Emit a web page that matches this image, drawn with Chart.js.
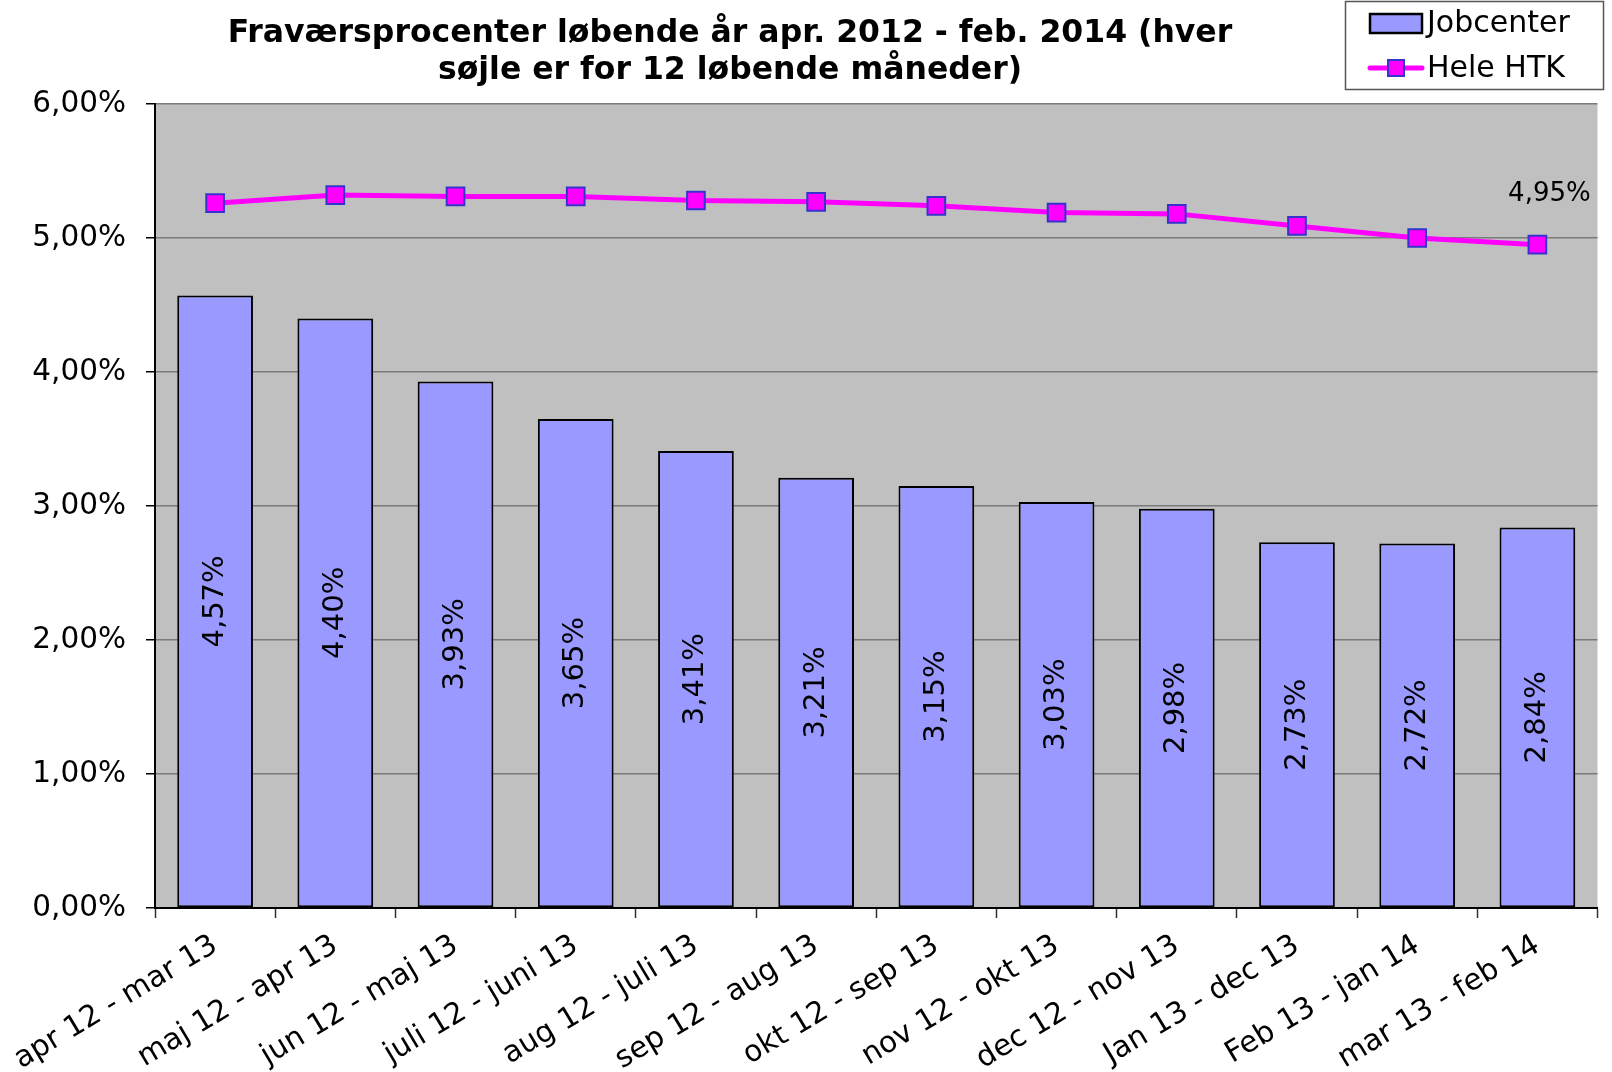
<!DOCTYPE html>
<html>
<head>
<meta charset="utf-8">
<script src="https://cdn.jsdelivr.net/npm/chart.js@4.4.0/dist/chart.umd.min.js"></script>
<style>
    html, body { margin: 0; padding: 0; background: #fff; }
    canvas { display: block; }
</style>
</head>
<body>
<canvas id="fravaerChart" width="1612" height="1072"></canvas>
<script>
// Kategorier (12 løbende måneder)
const categories = [
    'apr 12 - mar 13', 'maj 12 - apr 13', 'jun 12 - maj 13', 'juli 12 - juni 13',
    'aug 12 - juli 13', 'sep 12 - aug 13', 'okt 12 - sep 13', 'nov 12 - okt 13',
    'dec 12 - nov 13', 'Jan 13 - dec 13', 'Feb 13 - jan 14', 'mar 13 - feb 14'
];

// Fraværsprocent, i procent
const jobcenter = [4.57, 4.40, 3.93, 3.65, 3.41, 3.21, 3.15, 3.03, 2.98, 2.73, 2.72, 2.84];
const heleHTK = [5.26, 5.32, 5.31, 5.31, 5.28, 5.27, 5.24, 5.19, 5.18, 5.09, 5.00, 4.95];

const titleLines = [
    'Fraværsprocenter løbende år apr. 2012 - feb. 2014 (hver',
    'søjle er for 12 løbende måneder)'
];

const FONT = '"DejaVu Sans", Verdana, sans-serif';

function fmtPct(v) {
    return v.toFixed(2).replace('.', ',') + '%';
}

/**
 * Grå baggrund i plotområdet
 */
const plotBackground = {
    id: 'plotBackground',
    beforeDraw(chart) {
        const a = chart.chartArea;
        const ctx = chart.ctx;
        ctx.save();
        ctx.fillStyle = '#c0c0c0';
        ctx.fillRect(a.left, a.top, a.right - a.left, a.bottom - a.top);
        ctx.restore();
    }
};

/**
 * Værdier på søjler (lodret) og sidste punkt på linjen
 */
const valueLabels = {
    id: 'valueLabels',
    afterDatasetsDraw(chart) {
        const ctx = chart.ctx;
        ctx.save();
        ctx.fillStyle = '#000';
        ctx.font = '29px ' + FONT;
        ctx.textAlign = 'center';
        ctx.textBaseline = 'middle';
        chart.getDatasetMeta(1).data.forEach((bar, i) => {
            const cy = (bar.y + bar.base) / 2;
            ctx.save();
            ctx.translate(bar.x, cy);
            ctx.rotate(-Math.PI / 2);
            ctx.fillText(fmtPct(jobcenter[i]), 0, 0);
            ctx.restore();
        });
        // kun sidste punkt har etiket
        const pts = chart.getDatasetMeta(0).data;
        const last = pts[pts.length - 1];
        ctx.font = '26px ' + FONT;
        ctx.fillText(fmtPct(heleHTK[heleHTK.length - 1]), last.x + 12, last.y - 50);
        ctx.restore();
    }
};

/**
 * Titel og forklaring tegnes selv
 */
const titleAndLegend = {
    id: 'titleAndLegend',
    afterDraw(chart) {
        const ctx = chart.ctx;
        ctx.save();
        ctx.fillStyle = '#000';
        ctx.font = 'bold 31.5px ' + FONT;
        ctx.textAlign = 'center';
        ctx.textBaseline = 'middle';
        ctx.fillText(titleLines[0], 730, 34);
        ctx.fillText(titleLines[1], 730, 71);

        // forklaringsboks
        ctx.strokeStyle = '#555';
        ctx.lineWidth = 1.5;
        ctx.strokeRect(1345.5, 1.5, 258, 88);

        const bars = chart.data.datasets[1];
        const line = chart.data.datasets[0];
        ctx.fillStyle = bars.backgroundColor;
        ctx.fillRect(1370, 14, 52, 19);
        ctx.strokeStyle = '#000';
        ctx.lineWidth = 2.5;
        ctx.strokeRect(1370, 14, 52, 19);

        ctx.strokeStyle = line.borderColor;
        ctx.lineWidth = 5;
        ctx.lineCap = 'round';
        ctx.beginPath();
        ctx.moveTo(1370, 68);
        ctx.lineTo(1422, 68);
        ctx.stroke();
        ctx.fillStyle = line.pointBackgroundColor;
        ctx.strokeStyle = line.pointBorderColor;
        ctx.lineWidth = 2;
        ctx.fillRect(1388, 60, 16, 16);
        ctx.strokeRect(1388, 60, 16, 16);

        ctx.fillStyle = '#000';
        ctx.font = '30px ' + FONT;
        ctx.textAlign = 'left';
        ctx.fillText(bars.label, 1427, 24);
        ctx.fillText(line.label, 1427, 69);
        ctx.restore();
    }
};

new Chart(document.getElementById('fravaerChart'), {
    type: 'bar',
    data: {
        labels: categories,
        datasets: [{
            type: 'line',
            label: 'Hele HTK',
            data: heleHTK,
            order: 1,
            borderColor: '#ff00ff',
            borderWidth: 5,
            pointStyle: 'rect',
            pointRadius: 12.5,
            pointBackgroundColor: '#ff00ff',
            pointBorderColor: '#3434cc',
            pointBorderWidth: 2,
            tension: 0
        }, {
            label: 'Jobcenter',
            data: jobcenter,
            order: 2,
            backgroundColor: '#9999ff',
            borderColor: '#000',
            borderWidth: 2,
            borderSkipped: false,
            categoryPercentage: 1,
            barPercentage: 0.63
        }]
    },
    options: {
        responsive: false,
        devicePixelRatio: 1,
        animation: false,
        layout: { padding: { top: 104, right: 10, left: 0, bottom: 0 } },
        plugins: {
            legend: { display: false },
            title: { display: false },
            tooltip: { enabled: false }
        },
        scales: {
            x: {
                afterFit(scale) { scale.height = 164; },
                grid: {
                    offset: true,
                    drawOnChartArea: false,
                    tickLength: 10,
                    tickColor: '#333',
                    tickWidth: 1.5
                },
                border: { color: '#000', width: 2 },
                ticks: {
                    autoSkip: false,
                    minRotation: 31,
                    maxRotation: 31,
                    padding: 10,
                    color: '#000',
                    font: { family: FONT, size: 29.5 }
                }
            },
            y: {
                min: 0,
                max: 6,
                afterFit(scale) { scale.width = 155; },
                grid: {
                    color: '#7a7a7a',
                    lineWidth: 1.5,
                    tickLength: 9,
                    tickColor: '#000'
                },
                border: { color: '#000', width: 2 },
                ticks: {
                    stepSize: 1,
                    padding: 20,
                    color: '#000',
                    font: { family: FONT, size: 29.5 },
                    callback: v => fmtPct(v)
                }
            }
        }
    },
    plugins: [plotBackground, valueLabels, titleAndLegend]
});
</script>
</body>
</html>
